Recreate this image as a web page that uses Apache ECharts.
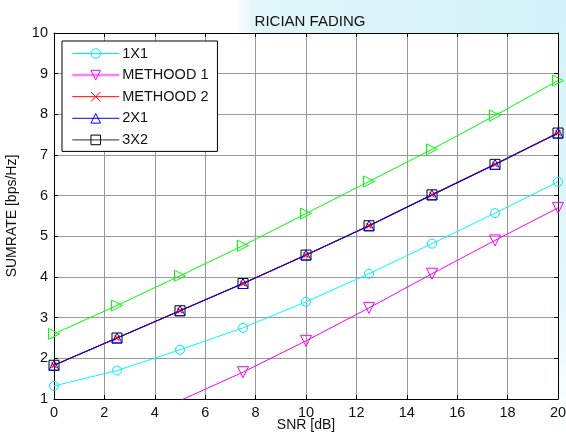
<!DOCTYPE html>
<html>
<head>
<meta charset="utf-8">
<script src="https://cdn.jsdelivr.net/npm/echarts@6/dist/echarts.min.js"></script>
<style>
html,body{margin:0;padding:0;background:#fff;}
#c{width:566px;height:437px;}
</style>
</head>
<body>
<div id="c"></div>
<script>
const snr = [0, 2.5, 5, 7.5, 10, 12.5, 15, 17.5, 20];
const s1x1 = [1.32, 1.70, 2.21, 2.75, 3.39, 4.08, 4.82, 5.57, 6.34];
const method1 = [null, null, 0.96, 1.66, 2.43, 3.24, 4.08, 4.90, 5.70];
const method2 = [1.83, 2.50, 3.17, 3.84, 4.54, 5.26, 6.02, 6.77, 7.54];
const s2x1 = [1.83, 2.50, 3.17, 3.84, 4.54, 5.26, 6.02, 6.77, 7.54];
const s3x2 = [1.83, 2.50, 3.17, 3.84, 4.54, 5.26, 6.02, 6.77, 7.54];
const green = [2.60, 3.30, 4.03, 4.77, 5.56, 6.35, 7.14, 7.97, 8.83];
const xTicks = [0, 2, 4, 6, 8, 10, 12, 14, 16, 18, 20];
const yTicks = [1, 2, 3, 4, 5, 6, 7, 8, 9, 10];
const legendNames = ['1X1', 'METHOOD 1', 'METHOOD 2', '2X1', '3X2'];

const FONT = "'Liberation Sans', Arial, sans-serif";
const pairs = arr => snr.map((x, i) => [x, arr[i]]);
const xPath = 'path://M0,0L10,10M10,0L0,10';

const chart = echarts.init(document.getElementById('c'), null, {renderer: 'canvas'});

function axisCommon(extra) {
  return Object.assign({
    type: 'value',
    axisLine: {show: true, onZero: false, lineStyle: {color: '#000', width: 1}},
    axisTick: {show: true, inside: true, length: 4, lineStyle: {color: '#000'}},
    splitLine: {show: false},
    axisLabel: {show: false}
  }, extra);
}

chart.setOption({
  animation: false,
  backgroundColor: '#fff',
  graphic: [
    {type: 'rect', silent: true, z: -10, shape: {x: 236, y: 0, width: 330, height: 33},
     style: {fill: new echarts.graphic.LinearGradient(0, 0, 1, 0, [
       {offset: 0, color: '#ffffff'}, {offset: 0.05, color: '#e2f6fa'}, {offset: 0.5, color: '#d9f3f9'}, {offset: 1, color: '#d2f1f8'}])}},
    {type: 'rect', silent: true, z: -10, shape: {x: 558, y: 0, width: 8, height: 437},
     style: {fill: new echarts.graphic.LinearGradient(0, 0, 0, 1, [
       {offset: 0, color: '#d2f1f8'}, {offset: 0.7, color: '#e6f8fb'}, {offset: 1, color: '#ffffff'}])}}
  ],
  title: {
    text: 'RICIAN FADING',
    left: 305, top: 9, textAlign: 'center',
    textStyle: {fontFamily: FONT, fontSize: 15, fontWeight: 'normal', color: '#111'}
  },
  grid: {left: 54, right: 8, top: 33, bottom: 38, outerBoundsMode: 'none', containLabel: false,
         backgroundColor: '#fff', show: true, borderWidth: 0},
  legend: {
    orient: 'vertical',
    left: 62, top: 41,
    padding: [5, 9, 4, 9],
    itemWidth: 47, itemHeight: 12, itemGap: 6.6,
    backgroundColor: '#fff', borderColor: '#000', borderWidth: 1,
    itemStyle: {color: 'rgba(0,0,0,0)', borderWidth: 1},
    lineStyle: {width: 1},
    textStyle: {fontFamily: FONT, fontSize: 14.5, color: '#111', padding: [0, 0, 0, -2]},
    data: [
      {name: legendNames[0], lineStyle: {width: 1.2, color: '#00e8ff'}},
      {name: legendNames[1], lineStyle: {width: 2.5, color: '#ff80ff'}},
      {name: legendNames[2], lineStyle: {width: 1, color: '#ff0000'}},
      {name: legendNames[3], lineStyle: {width: 1, color: '#0000ff'}},
      {name: legendNames[4], lineStyle: {width: 1.2, color: '#555'}}
    ]
  },
  xAxis: [
    axisCommon({
      position: 'bottom', min: 0, max: 20, interval: 2,
      name: 'SNR [dB]', nameLocation: 'middle', nameGap: 19, nameMoveOverlap: false,
      nameTextStyle: {fontFamily: FONT, fontSize: 14, color: '#111'},
      axisLabel: {show: true, margin: 6, fontFamily: FONT, fontSize: 14.5, color: '#111'},
      splitLine: {show: true, lineStyle: {color: '#9a9a9a', width: 1}}
    }),
    axisCommon({position: 'top', min: 0, max: 20, interval: 2})
  ],
  yAxis: [
    axisCommon({
      position: 'left', min: 1, max: 10, interval: 1,
      name: 'SUMRATE [bps/Hz]', nameLocation: 'middle', nameGap: 35, nameMoveOverlap: false,
      nameTextStyle: {fontFamily: FONT, fontSize: 14, color: '#111'},
      axisLabel: {show: true, margin: 6, fontFamily: FONT, fontSize: 14.5, color: '#111'},
      splitLine: {show: true, lineStyle: {color: '#9a9a9a', width: 1}}
    }),
    axisCommon({position: 'right', min: 1, max: 10, interval: 1})
  ],
  series: [
    {
      name: '', type: 'line', data: pairs(green), clip: true,
      symbol: 'triangle', symbolSize: 11, symbolRotate: -90,
      lineStyle: {color: '#00ff00', width: 1},
      itemStyle: {color: 'rgba(0,0,0,0)', borderColor: '#00ff00', borderWidth: 1},
      z: 3
    },
    {
      name: legendNames[0], type: 'line', data: pairs(s1x1), clip: true,
      symbol: 'circle', symbolSize: 9,
      lineStyle: {color: '#00ffff', width: 1},
      itemStyle: {color: 'rgba(0,0,0,0)', borderColor: '#00e5ff', borderWidth: 1},
      z: 3
    },
    {
      name: legendNames[1], type: 'line', data: pairs(method1), clip: true, connectNulls: false,
      symbol: 'triangle', symbolSize: 11, symbolRotate: 180,
      lineStyle: {color: '#ff00ff', width: 1},
      itemStyle: {color: 'rgba(0,0,0,0)', borderColor: '#ff00ff', borderWidth: 1},
      z: 3
    },
    {
      name: legendNames[2], type: 'line', data: pairs(method2), clip: true,
      symbol: xPath, symbolSize: 5,
      lineStyle: {color: '#ff0000', width: 1},
      itemStyle: {color: 'rgba(0,0,0,0)', borderColor: '#ff0000', borderWidth: 1.2},
      z: 4
    },
    {
      name: legendNames[3], type: 'line', data: pairs(s2x1), clip: true,
      symbol: 'triangle', symbolSize: 10,
      lineStyle: {color: '#0000ff', width: 1},
      itemStyle: {color: 'rgba(0,0,0,0)', borderColor: '#0000ff', borderWidth: 1},
      z: 4
    },
    {
      name: legendNames[4], type: 'line', data: pairs(s3x2), clip: true,
      symbol: 'rect', symbolSize: 10,
      lineStyle: {color: '#1c0c38', width: 1.2},
      itemStyle: {color: 'rgba(0,0,0,0)', borderColor: '#000', borderWidth: 1},
      z: 3
    }
  ]
});
</script>
</body>
</html>
